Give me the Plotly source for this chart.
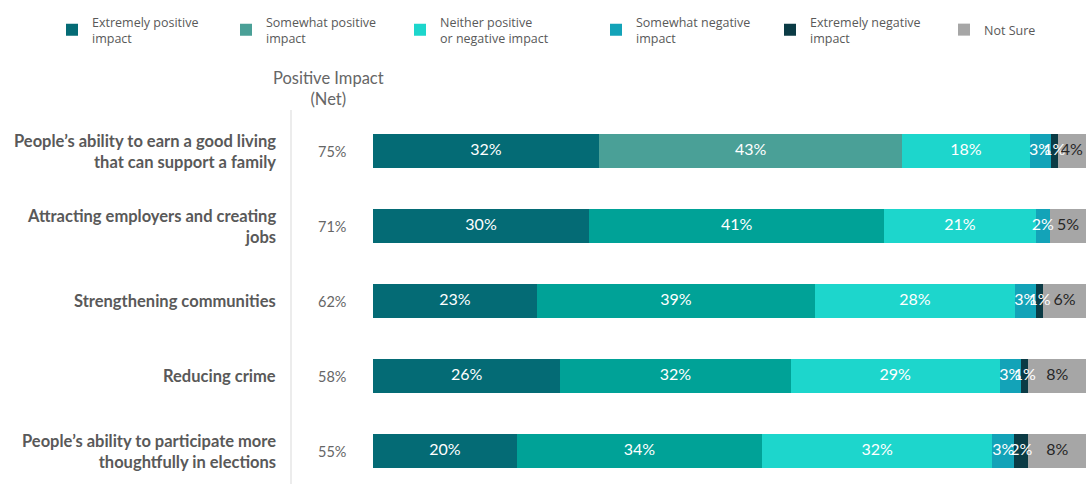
import plotly.graph_objects as go

# Survey items (top to bottom)
categories = [
    "People’s ability to earn a good living<br>that can support a family",
    "Attracting employers and creating<br>jobs",
    "Strengthening communities",
    "Reducing crime",
    "People’s ability to participate more<br>thoughtfully in elections",
]
net_positive = [75, 71, 62, 58, 55]

series_names = [
    "Extremely positive<br>impact",
    "Somewhat positive<br>impact",
    "Neither positive<br>or negative impact",
    "Somewhat negative<br>impact",
    "Extremely negative<br>impact",
    "Not Sure",
]
extremely_positive = [32, 30, 23, 26, 20]
somewhat_positive = [43, 41, 39, 32, 34]
neither = [18, 21, 28, 29, 32]
somewhat_negative = [3, 2, 3, 3, 3]
extremely_negative = [1, 0, 1, 1, 2]
not_sure = [4, 5, 6, 8, 8]

series_values = [extremely_positive, somewhat_positive, neither,
                 somewhat_negative, extremely_negative, not_sure]
series_colors = ["#046b75", "#00a297", "#1dd6cc", "#13a3b8", "#0b3b45", "#a6a6a6"]
text_colors = ["white", "white", "white", "white", "white", "#262626"]
# legend groups: positive/neutral, negative, not sure
legend_ids = ["legend", "legend", "legend", "legend2", "legend2", "legend3"]

rows = list(range(len(categories)))
fig = go.Figure()

for name, vals, color, lg in zip(series_names, series_values, series_colors, legend_ids):
    colors = [color] * len(vals)
    if name.startswith("Somewhat positive"):
        colors[0] = "#4aa097"
    fig.add_trace(go.Bar(
        y=rows, x=vals, name=name, orientation="h", legend=lg,
        marker=dict(color=colors, line=dict(width=0)),
        width=0.46, hoverinfo="skip",
    ))

# Segment labels, centred on each normalised segment
totals = [sum(s[i] for s in series_values) for i in rows]
for k, (vals, tcolor) in enumerate(zip(series_values, text_colors)):
    xs, ys, txt = [], [], []
    for i in rows:
        if vals[i] == 0:
            continue
        start = sum(s[i] for s in series_values[:k])
        xs.append((start + vals[i] / 2) / totals[i] * 100)
        ys.append(i)
        txt.append(f"{vals[i]}%")
    fig.add_trace(go.Scatter(
        x=xs, y=ys, text=txt, mode="text", showlegend=False,
        textfont=dict(family="Lato", size=16, color=tcolor),
        hoverinfo="skip", cliponaxis=False,
    ))

annotations = []
for i, (cat, net) in enumerate(zip(categories, net_positive)):
    annotations.append(dict(
        x=278 / 1091, y=i, xref="paper", yref="y", text=f"<b>{cat}</b>",
        xanchor="right", yanchor="middle", align="right", showarrow=False,
        font=dict(family="Lato", size=16.5, color="#595959"),
    ))
    annotations.append(dict(
        x=332 / 1091, y=i, xref="paper", yref="y", text=f"{net}%",
        xanchor="center", yanchor="middle", showarrow=False,
        font=dict(family="Lato", size=14.5, color="#666666"),
    ))
annotations.append(dict(
    x=328 / 1091, y=1 + 12 / 384, xref="paper", yref="paper",
    text="Positive Impact<br>(Net)", xanchor="center", yanchor="middle",
    showarrow=False, align="center",
    font=dict(family="Lato", size=16.5, color="#666666"),
))


def legend_box(x_px, entry_w=129, y_px=7):
    return dict(
        orientation="h", x=x_px / 1091, y=1 - y_px / 484, yref="container",
        xanchor="left", yanchor="top", traceorder="normal",
        entrywidth=entry_w, entrywidthmode="pixels",
        font=dict(family="Open Sans", size=12.5, color="#595959"),
        itemwidth=30, tracegroupgap=0, bgcolor="rgba(0,0,0,0)",
    )


fig.update_layout(
    width=1091, height=484,
    margin=dict(l=0, r=0, t=100, b=0),
    paper_bgcolor="white", plot_bgcolor="white",
    barmode="stack", barnorm="percent",
    xaxis=dict(domain=[373 / 1091, 1086 / 1091], range=[0, 100],
               visible=False, fixedrange=True),
    yaxis=dict(range=[4.44, -0.68], visible=False, fixedrange=True),
    legend=legend_box(52),
    legend2=legend_box(596),
    legend3=legend_box(944, 60, 15),
    annotations=annotations,
    shapes=[dict(type="line", xref="paper", yref="paper",
                 x0=291 / 1091, x1=291 / 1091, y0=0, y1=1 - 10 / 384,
                 line=dict(color="#d9d9d9", width=1))],
    showlegend=True,
)

fig.write_html("out.html")
